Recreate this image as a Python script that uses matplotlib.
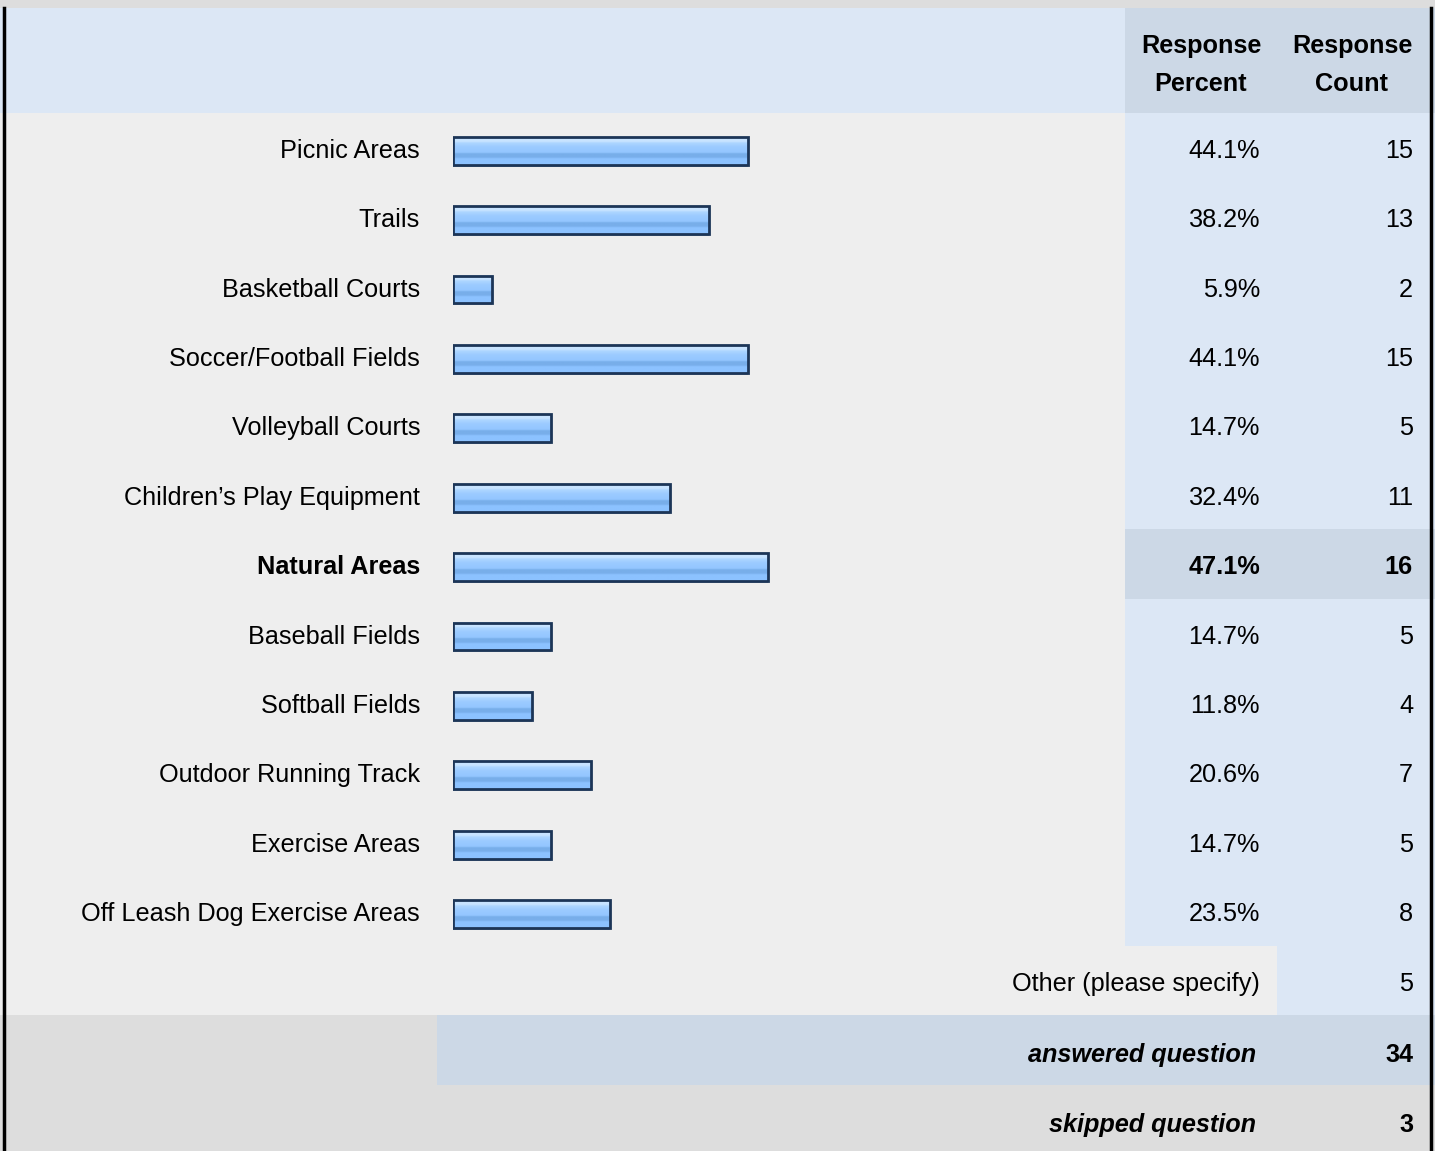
import matplotlib
matplotlib.use('Agg')
import matplotlib.pyplot as plt
import numpy as np
from matplotlib.colors import LinearSegmentedColormap

plt.rcParams['font.family'] = ['Liberation Sans', 'DejaVu Sans']

categories = ['Picnic Areas', 'Trails', 'Basketball Courts', 'Soccer/Football Fields',
              'Volleyball Courts', 'Children\u2019s Play Equipment', 'Natural Areas',
              'Baseball Fields', 'Softball Fields', 'Outdoor Running Track',
              'Exercise Areas', 'Off Leash Dog Exercise Areas']
percents = [44.1, 38.2, 5.9, 44.1, 14.7, 32.4, 47.1, 14.7, 11.8, 20.6, 14.7, 23.5]
counts = [15, 13, 2, 15, 5, 11, 16, 5, 4, 7, 5, 8]
other_count = 5
answered = 34
skipped = 3

W, H = 1435, 1151
fig = plt.figure(figsize=(W / 100, H / 100), dpi=100)
ax = fig.add_axes([0, 0, 1, 1])
ax.set_xlim(0, W)
ax.set_ylim(H, 0)
ax.axis('off')

LIGHT = '#DCE7F5'
MID = '#CCD8E6'
PALE = '#EEEEEE'
GREY = '#DDDDDD'

def cell(x0, x1, y0, y1, c):
    ax.add_patch(plt.Rectangle((x0, y0), x1 - x0, y1 - y0, color=c, lw=0, zorder=0))

top, hdr = 8, 113
row_h = 69.4
body_end = hdr + row_h * len(categories)
other_end = body_end + row_h
ans_end = other_end + row_h

cell(0, W, 0, H, GREY)
cell(0, 1125, top, hdr, LIGHT)
cell(1125, W, top, hdr, MID)
cell(0, 1125, hdr, body_end, PALE)
cell(1125, W, hdr, body_end, LIGHT)
hi = categories.index('Natural Areas')
cell(1125, W, hdr + hi * row_h, hdr + (hi + 1) * row_h, MID)
cell(0, 1277, body_end, other_end, PALE)
cell(1277, W, body_end, other_end, LIGHT)
cell(437, W, other_end, ans_end, MID)
ax.plot([4, 4], [top, H], color='black', lw=2.5, zorder=5)
ax.plot([1431, 1431], [top, H], color='black', lw=2.5, zorder=5)

fs = 18.2
ax.text(1201, 46, 'Response', ha='center', va='center', fontsize=fs, fontweight='bold')
ax.text(1201, 84, 'Percent', ha='center', va='center', fontsize=fs, fontweight='bold')
ax.text(1352, 46, 'Response', ha='center', va='center', fontsize=fs, fontweight='bold')
ax.text(1352, 84, 'Count', ha='center', va='center', fontsize=fs, fontweight='bold')

shift = 3
centers = hdr + shift + row_h * (np.arange(len(categories)) + 0.5)
for i, (name, p, n) in enumerate(zip(categories, percents, counts)):
    w = 'bold' if i == hi else 'normal'
    y = centers[i]
    ax.text(420, y, name, ha='right', va='center', fontsize=fs, fontweight=w)
    ax.text(1260, y, f'{p:.1f}%', ha='right', va='center', fontsize=fs, fontweight=w)
    ax.text(1413, y, str(n), ha='right', va='center', fontsize=fs, fontweight=w)

yo = body_end + row_h / 2 + shift
ax.text(1260, yo, 'Other (please specify)', ha='right', va='center', fontsize=fs)
ax.text(1413, yo, str(other_count), ha='right', va='center', fontsize=fs)
ya = other_end + row_h / 2 + 5
ax.text(1256, ya, 'answered question', ha='right', va='center', fontsize=fs,
        fontweight='bold', style='italic')
ax.text(1413, ya, str(answered), ha='right', va='center', fontsize=fs, fontweight='bold')
ys = ans_end + (H - ans_end) / 2 + 7
ax.text(1256, ys, 'skipped question', ha='right', va='center', fontsize=fs,
        fontweight='bold', style='italic')
ax.text(1413, ys, str(skipped), ha='right', va='center', fontsize=fs, fontweight='bold')

# bar axes: 0-100 % spans x 453..1122 px, one unit per row
bx0, bx1 = 453, 1122
by0, by1 = hdr + shift, body_end + shift
bax = fig.add_axes([bx0 / W, 1 - by1 / H, (bx1 - bx0) / W, (by1 - by0) / H])
bax.axis('off')
bax.patch.set_alpha(0)

stripes = LinearSegmentedColormap.from_list('bar', [
    (0.0, '#C8E4FF'), (0.15, '#C8E4FF'), (0.2, '#AED6FF'), (0.35, '#9CCBFF'),
    (0.55, '#93C6FF'), (0.6, '#78AEEA'), (0.72, '#78AEEA'), (0.78, '#8CC2FF'),
    (1.0, '#8CC2FF')])
grad = np.linspace(0, 1, 64).reshape(-1, 1)
bh = 0.4
for i, p in enumerate(percents):
    bax.imshow(grad, cmap=stripes, aspect='auto', extent=(0, p, i + bh / 2, i - bh / 2),
               interpolation='bilinear', zorder=2)
    bax.barh(i + 0.03, p, height=bh, color='#9AA6B6', lw=0, zorder=1)
bax.barh(range(len(percents)), percents, height=bh, facecolor='none',
         edgecolor='#1C3557', lw=2, zorder=3)
bax.set_xlim(0, 100)
bax.set_ylim(len(categories) - 0.5, -0.5)

fig.savefig('out.png', dpi=100)
